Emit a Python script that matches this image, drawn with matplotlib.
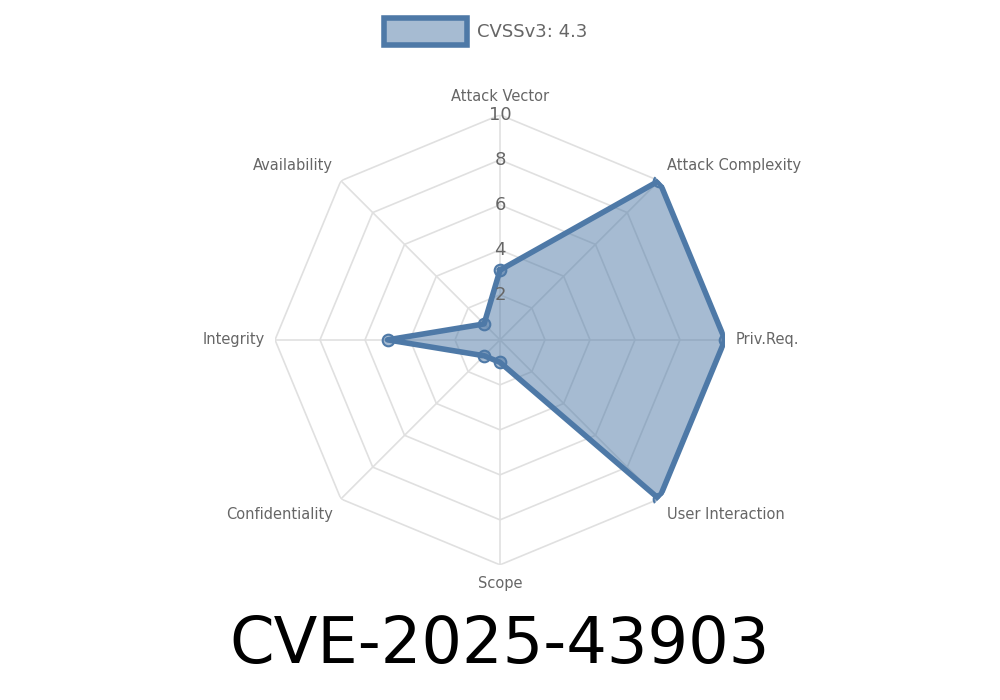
import numpy as np
import matplotlib
matplotlib.use("Agg")
import matplotlib.pyplot as plt
from matplotlib.patches import Rectangle

categories = ["Attack Vector", "Attack Complexity", "Priv.Req.", "User Interaction",
              "Scope", "Confidentiality", "Integrity", "Availability"]
values = [3.1, 10, 10, 10, 1.0, 1.0, 5.0, 1.0]
ticks = [2, 4, 6, 8, 10]
legend_label = "CVSSv3: 4.3"
title = "CVE-2025-43903"

line_c = "#4e79a7"
fill_c = (78/255, 121/255, 167/255, 0.5)
gray = "#666666"

fig = plt.figure(figsize=(10, 7), dpi=100)
ax = fig.add_axes([0.275, 0.193, 0.45, 0.643], projection="polar")
ax.set_theta_zero_location("N")
ax.set_theta_direction(-1)
ax.set_ylim(0, 10)
ax.grid(False)
ax.set_xticks([]); ax.set_yticks([])
ax.spines["polar"].set_visible(False)
ax.patch.set_alpha(0)

n = len(categories)
th = np.linspace(0, 2*np.pi, n, endpoint=False)
thc = np.append(th, th[0])
for t in ticks:
    ax.plot(thc, [t]*(n+1), color="#e0e0e0", lw=1.2, zorder=1)
for a in th:
    ax.plot([a, a], [0, 10], color="#e0e0e0", lw=1.2, zorder=1)

v = np.append(values, values[0])
ax.fill(thc, v, color=fill_c, zorder=2)
ax.plot(thc, v, color=line_c, lw=4, zorder=3)
ax.scatter(th, values, s=70, facecolor=(78/255, 121/255, 167/255, 0.5),
           edgecolor=line_c, linewidth=1.5, zorder=4)

for t in ticks:
    ax.text(0, t, str(t), ha="center", va="center", fontsize=13, color=gray, zorder=5)

for a, lab in zip(th, categories):
    s, c = np.sin(a), np.cos(a)
    ha = "center" if abs(s) < 0.1 else ("left" if s > 0 else "right")
    va = "center" if abs(c) < 0.1 else ("bottom" if c > 0 else "top")
    r = 10.5
    if abs(c) < 0.1:
        r = 10.45
    ax.text(a, r, lab, ha=ha, va=va, fontsize=10.5, color=gray)

fig.patches.append(Rectangle((0.384, 1 - 45/700), 0.083, 27/700, transform=fig.transFigure,
                             facecolor=fill_c, edgecolor=line_c, lw=4))
fig.text(0.477, 1 - 32/700, legend_label, fontsize=13, color=gray, va="center", ha="left")
fig.text(0.5, 1 - 645/700, title, fontsize=46, color="black", ha="center", va="center")

fig.savefig("out.png")
